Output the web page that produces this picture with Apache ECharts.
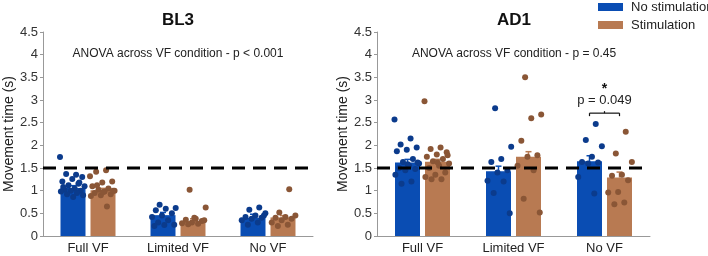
<!DOCTYPE html>
<html>
<head>
<meta charset="utf-8">
<script src="https://cdn.jsdelivr.net/npm/echarts@6/dist/echarts.min.js"></script>
<style>
  html, body { margin: 0; padding: 0; background: #fff; }
  #main { width: 708px; height: 256px; }
</style>
</head>
<body>
<div id="main"></div>
<script>
var categories = ['Full VF', 'Limited VF', 'No VF'];

// BL3 panel
var bl3NoStimMean = [1.06, 0.46, 0.40];
var bl3NoStimErr = [0.05, 0.06, 0.08];
var bl3StimMean = [1.01, 0.33, 0.41];
var bl3StimErr = [0.04, 0.05, 0.04];
var bl3NoStimPts = [
  [1.74, 1.35, 1.37, 1.30, 1.26, 1.20, 1.15, 1.12, 1.10, 1.05, 1.02, 1.00, 1.00, 0.98, 0.95, 0.92, 0.90, 0.86, 1.08, 1.18],
  [0.69, 0.62, 0.60, 0.57, 0.50, 0.45, 0.42, 0.35, 0.30, 0.25, 0.24, 0.22],
  [0.63, 0.58, 0.50, 0.45, 0.42, 0.40, 0.38, 0.35, 0.30, 0.25, 0.45]
];
var bl3StimPts = [
  [1.32, 1.45, 1.42, 1.20, 1.18, 1.10, 1.05, 1.02, 1.00, 0.98, 0.95, 0.92, 0.90, 0.88, 0.65, 1.12, 1.00, 0.97],
  [1.02, 0.63, 0.38, 0.36, 0.33, 0.30, 0.28, 0.27, 0.26, 0.35, 0.40],
  [1.03, 0.52, 0.45, 0.42, 0.40, 0.38, 0.35, 0.30, 0.25, 0.22]
];

// AD1 panel
var ad1NoStimMean = [1.62, 1.43, 1.65];
var ad1NoStimErr = [0.07, 0.11, 0.12];
var ad1StimMean = [1.64, 1.75, 1.29];
var ad1StimErr = [0.05, 0.11, 0.12];
var ad1NoStimPts = [
  [2.57, 2.15, 2.02, 1.95, 1.90, 1.87, 1.70, 1.63, 1.60, 1.55, 1.50, 1.48, 1.45, 1.35, 1.20, 1.15, 1.62, 1.58],
  [2.82, 1.97, 1.70, 1.63, 1.45, 1.40, 1.22, 1.20, 0.95, 0.50],
  [2.47, 2.12, 1.98, 1.75, 1.63, 1.62, 1.60, 1.30, 0.94]
];
var ad1StimPts = [
  [2.97, 1.95, 1.92, 1.85, 1.80, 1.75, 1.70, 1.65, 1.60, 1.55, 1.50, 1.40, 1.35, 1.30, 1.25, 1.25, 1.78, 1.62],
  [3.50, 2.68, 2.60, 2.10, 1.78, 1.75, 1.55, 1.45, 0.82, 0.52],
  [2.30, 1.82, 1.63, 1.35, 1.33, 1.23, 0.97, 0.96, 0.74, 0.70]
];

var refLine = 1.5;
// significance bracket: [category, bracket height, text]
var sigBracket = [[2, 2.71, 'p = 0.049']];

var blue = '#0a4db3';
var brown = '#b87a52';
var blueDot = '#0b3b8c';
var brownDot = '#8a5636';
var font = 'Liberation Sans, Arial, sans-serif';

var myChart = echarts.init(document.getElementById('main'));

// flatten dot lists into [cat, value, jitterPx]
function dotData(pts) {
  var out = [];
  for (var c = 0; c < pts.length; c++) {
    for (var k = 0; k < pts[c].length; k++) {
      var j = ((k * 0.618034 + c * 0.37) % 1 - 0.5) * 26;
      out.push([c, pts[c][k], j]);
    }
  }
  return out;
}

function errData(mean, err) {
  return mean.map(function(m, i) { return [i, m, err[i]]; });
}

function dotSeries(pts, side, color, idx) {
  return {
    type: 'custom', xAxisIndex: idx, yAxisIndex: idx, z: 4, silent: true,
    data: dotData(pts),
    renderItem: function(params, api) {
      var c = api.coord([api.value(0), api.value(1)]);
      return {
        type: 'circle',
        shape: { cx: c[0] + side * 15 + api.value(2), cy: c[1], r: 3 },
        style: { fill: color }
      };
    }
  };
}

function errSeries(mean, err, side, color, idx) {
  return {
    type: 'custom', xAxisIndex: idx, yAxisIndex: idx, z: 3, silent: true,
    data: errData(mean, err),
    renderItem: function(params, api) {
      var lo = api.coord([api.value(0), api.value(1)]);
      var hi = api.coord([api.value(0), api.value(1) + api.value(2)]);
      var x = lo[0] + side * 15;
      return {
        type: 'group',
        children: [
          { type: 'line', shape: { x1: x, y1: lo[1], x2: x, y2: hi[1] }, style: { stroke: color, lineWidth: 1.5 } },
          { type: 'line', shape: { x1: x - 3, y1: hi[1], x2: x + 3, y2: hi[1] }, style: { stroke: color, lineWidth: 1.5 } }
        ]
      };
    }
  };
}

function refSeries(idx) {
  return {
    type: 'custom', xAxisIndex: idx, yAxisIndex: idx, z: 10, silent: true,
    data: [[0, refLine]],
    renderItem: function(params, api) {
      var cs = params.coordSys;
      var y = api.coord([0, api.value(1)])[1];
      return {
        type: 'line',
        shape: { x1: cs.x, y1: y, x2: cs.x + cs.width, y2: y },
        style: { stroke: '#000', lineWidth: 3, lineDash: [13, 8] }
      };
    }
  };
}

function barSeries(name, mean, color, idx) {
  return {
    name: name, type: 'bar', xAxisIndex: idx, yAxisIndex: idx,
    data: mean, barWidth: 25, barGap: '20%', z: 2,
    itemStyle: { color: color }, silent: true
  };
}

function yAxisOpt(idx) {
  return {
    gridIndex: idx, type: 'value', min: 0, max: 4.5, interval: 0.5,
    name: 'Movement time (s)', nameLocation: 'middle', nameGap: 24,
    nameTextStyle: { fontSize: 14, color: '#222', fontFamily: font },
    axisLine: { show: true, lineStyle: { color: '#999' } },
    axisTick: { show: true, length: 3, lineStyle: { color: '#999' } },
    axisLabel: { fontSize: 13, color: '#333', margin: 5, fontFamily: font },
    splitLine: { show: false }
  };
}

function xAxisOpt(idx) {
  return {
    gridIndex: idx, type: 'category', data: categories,
    axisLine: { lineStyle: { color: '#999' } },
    axisTick: { show: false },
    axisLabel: { fontSize: 13, color: '#222', margin: 6, fontFamily: font }
  };
}

option = {
  animation: false,
  textStyle: { fontFamily: font },
  legend: {
    orient: 'vertical', left: 598, top: 0, padding: 0, itemWidth: 25, itemHeight: 8, itemGap: 4,
    icon: 'rect', data: ['No stimulation', 'Stimulation'],
    textStyle: { fontSize: 13, lineHeight: 14, color: '#222', fontFamily: font, padding: [0, 0, 0, 3] }
  },
  grid: [
    { left: 43, width: 270, top: 32, bottom: 20 },
    { left: 377, width: 273, top: 32, bottom: 20 }
  ],
  xAxis: [xAxisOpt(0), xAxisOpt(1)],
  yAxis: [yAxisOpt(0), yAxisOpt(1)],
  graphic: [
    { type: 'text', x: 178, y: 20, style: { text: 'BL3', font: 'bold 17px ' + font, fill: '#111', textAlign: 'center', textVerticalAlign: 'middle' } },
    { type: 'text', x: 514, y: 20, style: { text: 'AD1', font: 'bold 17px ' + font, fill: '#111', textAlign: 'center', textVerticalAlign: 'middle' } },
    { type: 'text', x: 178, y: 54, style: { text: 'ANOVA across VF condition - p < 0.001', font: '12px ' + font, fill: '#222', textAlign: 'center', textVerticalAlign: 'middle' } },
    { type: 'text', x: 514, y: 54, style: { text: 'ANOVA across VF condition - p = 0.45', font: '12px ' + font, fill: '#222', textAlign: 'center', textVerticalAlign: 'middle' } }
  ],
  series: [
    barSeries('No stimulation', bl3NoStimMean, blue, 0),
    barSeries('Stimulation', bl3StimMean, brown, 0),
    errSeries(bl3NoStimMean, bl3NoStimErr, -1, blue, 0),
    errSeries(bl3StimMean, bl3StimErr, 1, brown, 0),
    dotSeries(bl3NoStimPts, -1, blueDot, 0),
    dotSeries(bl3StimPts, 1, brownDot, 0),
    refSeries(0),

    barSeries('No stimulation', ad1NoStimMean, blue, 1),
    barSeries('Stimulation', ad1StimMean, brown, 1),
    errSeries(ad1NoStimMean, ad1NoStimErr, -1, blue, 1),
    errSeries(ad1StimMean, ad1StimErr, 1, brown, 1),
    dotSeries(ad1NoStimPts, -1, blueDot, 1),
    dotSeries(ad1StimPts, 1, brownDot, 1),
    refSeries(1),

    {
      // significance bracket over No VF in AD1
      type: 'custom', xAxisIndex: 1, yAxisIndex: 1, z: 6, silent: true,
      data: sigBracket,
      renderItem: function(params, api) {
        var c = api.coord([api.value(0), api.value(1)]);
        var x1 = c[0] - 15, x2 = c[0] + 15, y = c[1];
        var ln = { stroke: '#111', lineWidth: 1.2 };
        return {
          type: 'group',
          children: [
            { type: 'line', shape: { x1: x1, y1: y, x2: x2, y2: y }, style: ln },
            { type: 'line', shape: { x1: x1, y1: y, x2: x1, y2: y + 3 }, style: ln },
            { type: 'line', shape: { x1: x2, y1: y, x2: x2, y2: y + 3 }, style: ln },
            { type: 'line', shape: { x1: c[0], y1: y, x2: c[0], y2: y - 2 }, style: ln },
            { type: 'text', x: c[0], y: y - 13, style: { text: sigBracket[params.dataIndex][2], font: '13px ' + font, fill: '#222', textAlign: 'center', textVerticalAlign: 'middle' } },
            { type: 'text', x: c[0], y: y - 24, style: { text: '*', font: 'bold 14px ' + font, fill: '#111', textAlign: 'center', textVerticalAlign: 'middle' } }
          ]
        };
      }
    }
  ]
};

myChart.setOption(option);
</script>
</body>
</html>
